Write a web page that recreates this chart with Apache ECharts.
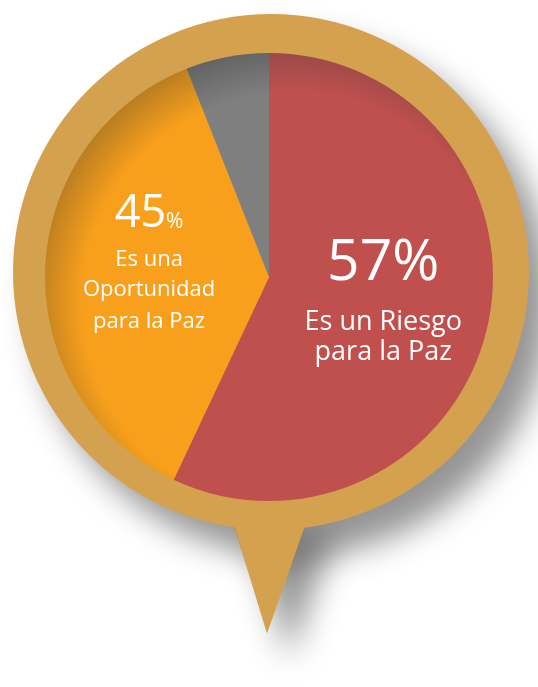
<!DOCTYPE html>
<html>
<head>
<meta charset="utf-8">
<script src="https://cdn.jsdelivr.net/npm/echarts@6/dist/echarts.min.js"></script>
<style>
  html, body { margin: 0; padding: 0; background: #fff; }
  #chart { width: 538px; height: 687px; }
</style>
</head>
<body>
<div id="chart"></div>
<script>
  // datos
  var categories = ['Es un Riesgo para la Paz', 'Es una Oportunidad para la Paz', 'NS/NR'];
  var sliceValues = [57, 37, 6];
  var shownPercent = [57, 45, null];
  var labelLines = [['Es un Riesgo', 'para la Paz'], ['Es una', 'Oportunidad', 'para la Paz'], []];

  var baseColors = ['#C0504D', '#F8A01C', '#7F7F7F'];
  var edgeColors = ['#8E4848', '#B57A22', '#5F5F5F'];

  function shade(i) {
    return {
      type: 'radial', x: 292, y: 302, r: 262, global: true,
      colorStops: [
        {offset: 0, color: baseColors[i]},
        {offset: 0.8, color: baseColors[i]},
        {offset: 1, color: edgeColors[i]}
      ]
    };
  }

  var chart = echarts.init(document.getElementById('chart'));

  // forma del pin (circulo + punta)
  var gold = '#D4A24F';
  var pinShadow = {
    shadowColor: 'rgba(0,0,0,0.42)',
    shadowBlur: 32,
    shadowOffsetX: 22,
    shadowOffsetY: 26
  };
  var tipPoints = [[230, 512], [267, 633], [310, 512]];

  var data = sliceValues.map(function (v, i) {
    var item = {value: v, name: categories[i], itemStyle: {color: shade(i)}};
    if (shownPercent[i] == null) {
      item.label = {show: false};
    }
    return item;
  });
  data[0].label = {offset: [2, -8]};
  data[1].label = {offset: [-5, -18]};

  chart.setOption({
    backgroundColor: '#fff',
    animation: false,
    graphic: [
      {
        type: 'polygon', z: 0, silent: true,
        shape: {points: tipPoints},
        style: echarts.util.extend({fill: gold}, pinShadow)
      },
      {
        type: 'circle', z: 0, silent: true,
        shape: {cx: 271, cy: 272, r: 258},
        style: echarts.util.extend({fill: gold}, pinShadow)
      },
      {
        type: 'polygon', z: 0, silent: true,
        shape: {points: tipPoints},
        style: {fill: gold}
      }
    ],
    series: [{
      type: 'pie',
      center: [269, 277],
      radius: [0, 224],
      startAngle: 90,
      clockwise: true,
      silent: true,
      labelLine: {show: false},
      label: {
        show: true,
        position: 'inside',
        color: '#fff',
        fontFamily: 'Open Sans',
        formatter: function (p) {
          var i = p.dataIndex;
          var lines = labelLines[i];
          if (i === 0) {
            return '{big0|' + shownPercent[i] + '%}\n' + lines.map(function (t) { return '{t0|' + t + '}'; }).join('\n');
          }
          return '{big1|' + shownPercent[i] + '}{pct|%}\n' + lines.map(function (t, k) {
            return (k === 0 ? '{t1a|' : '{t1|') + t + '}';
          }).join('\n');
        },
        rich: {
          big0: {fontSize: 57, lineHeight: 86, color: '#fff', fontFamily: 'Open Sans'},
          t0: {fontSize: 27, lineHeight: 30, color: '#fff', fontFamily: 'Open Sans'},
          big1: {fontSize: 45, lineHeight: 68, color: '#fff', fontFamily: 'Open Sans', verticalAlign: 'bottom', padding: [0, 0, 5, 0]},
          pct: {fontSize: 21, lineHeight: 68, color: '#fff', fontFamily: 'Open Sans', verticalAlign: 'bottom', padding: [0, 0, 9, 0]},
          t1a: {fontSize: 22, lineHeight: 32, color: '#fff', fontFamily: 'Open Sans', padding: [5, 0, 0, 0]},
          t1: {fontSize: 22, lineHeight: 32, color: '#fff', fontFamily: 'Open Sans'}
        }
      },
      emphasis: {disabled: true},
      data: data
    }]
  });
</script>
</body>
</html>
